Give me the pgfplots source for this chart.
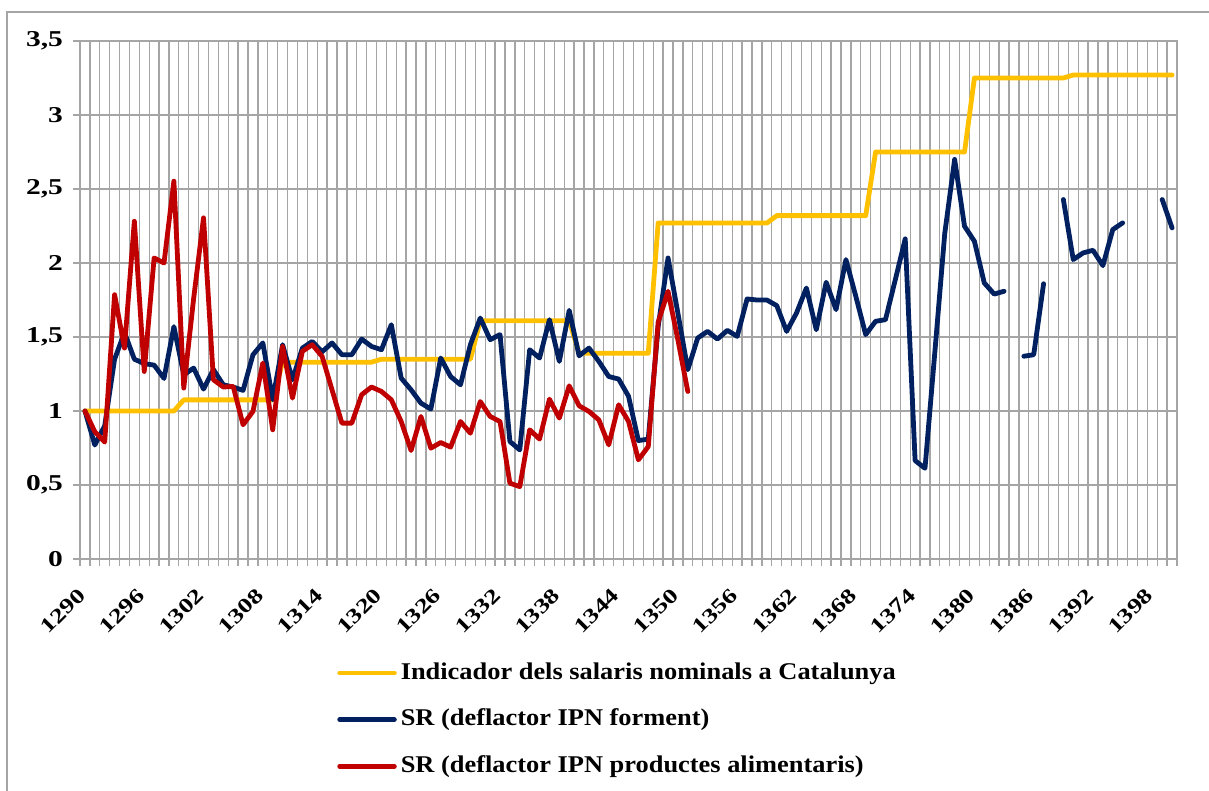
\documentclass[border=0pt]{standalone}
\usepackage{fontspec}
\setmainfont{Liberation Serif}
\newfontfamily\tickfont{Liberation Serif}[FakeStretch=1.3]
\newfontfamily\legfont{Liberation Serif}[FakeStretch=1.1]
\usepackage{pgfplots}
\pgfplotsset{compat=1.18}
\definecolor{cyel}{RGB}{255,192,0}
\definecolor{cblu}{RGB}{0,32,96}
\definecolor{cred}{RGB}{192,0,0}
\definecolor{cgrid}{RGB}{165,165,165}
\begin{document}
\begin{tikzpicture}
\useasboundingbox (0pt,0pt) rectangle (906.75pt,593.25pt);
\begin{scope}
\clip (0pt,0pt) rectangle (906.75pt,593.25pt);
\draw[cgrid, line width=1.4pt] (5.25pt,-20pt) -- (5.25pt,584.25pt) -- (930pt,584.25pt);
\end{scope}
\begin{axis}[
  at={(60pt,174pt)}, anchor=south west,
  scale only axis, width=822.75pt, height=388.5pt,
  xmin=1289.5, xmax=1400.5, ymin=0, ymax=3.5,
  axis line style={cgrid, line width=1pt},
  xtick={1290,1296,...,1398},
  minor xtick={1289.5,1290.5,...,1401},
  ytick={0,0.5,...,3.5},
  yticklabels={0,{0,5},1,{1,5},2,{2,5},3,{3,5}},
  xminorgrids=true, ymajorgrids=true,
  grid style={cgrid, line width=1pt},
  minor grid style={cgrid, line width=1pt},
  tick align=outside, tick pos=left,
  major tick length=5.25pt, minor tick length=5.25pt,
  every tick/.style={cgrid, line width=1pt},
  every major x tick/.style={draw=none},
  /pgf/number format/assume math mode=true,
  /pgf/number format/1000 sep={},
  xticklabel style={rotate=45, anchor=north east, font=\tickfont\bfseries\fontsize{15.5}{15.5}\selectfont, yshift=-3.5pt, xshift=-12pt},
  yticklabel style={font=\tickfont\bfseries\fontsize{17}{17}\selectfont, xshift=-4pt},
  unbounded coords=jump,
  every axis plot/.append style={line width=3.6pt, line join=round, line cap=round},
  legend style={at={(axis description cs:0.2343,-0.19)}, anchor=north west, draw=none, fill=none,
    inner sep=0pt, row sep=12pt, font=\legfont\bfseries\fontsize{18}{18}\selectfont,
    cells={anchor=west}, nodes={text height=13pt, text depth=4pt, inner sep=3pt}},
  legend image code/.code={\draw[#1, line cap=round] (0pt,0pt) -- (41pt,0pt);},
]
\addplot[cyel] coordinates {
(1290,1.0)(1291,1.0)(1292,1.0)(1293,1.0)(1294,1.0)(1295,1.0)(1296,1.0)(1297,1.0)(1298,1.0)(1299,1.0)
(1300,1.075)(1301,1.075)(1302,1.075)(1303,1.075)(1304,1.075)(1305,1.075)(1306,1.075)(1307,1.075)(1308,1.075)(1309,1.075)
(1310,1.33)(1311,1.33)(1312,1.33)(1313,1.33)(1314,1.33)(1315,1.33)(1316,1.33)(1317,1.33)(1318,1.33)(1319,1.33)
(1320,1.35)(1321,1.35)(1322,1.35)(1323,1.35)(1324,1.35)(1325,1.35)(1326,1.35)(1327,1.35)(1328,1.35)(1329,1.35)
(1330,1.61)(1331,1.61)(1332,1.61)(1333,1.61)(1334,1.61)(1335,1.61)(1336,1.61)(1337,1.61)(1338,1.61)(1339,1.61)
(1340,1.39)(1341,1.39)(1342,1.39)(1343,1.39)(1344,1.39)(1345,1.39)(1346,1.39)(1347,1.39)
(1348,2.27)(1349,2.27)(1350,2.27)(1351,2.27)(1352,2.27)(1353,2.27)(1354,2.27)(1355,2.27)(1356,2.27)(1357,2.27)(1358,2.27)(1359,2.27)
(1360,2.32)(1361,2.32)(1362,2.32)(1363,2.32)(1364,2.32)(1365,2.32)(1366,2.32)(1367,2.32)(1368,2.32)(1369,2.32)
(1370,2.75)(1371,2.75)(1372,2.75)(1373,2.75)(1374,2.75)(1375,2.75)(1376,2.75)(1377,2.75)(1378,2.75)(1379,2.75)
(1380,3.25)(1381,3.25)(1382,3.25)(1383,3.25)(1384,3.25)(1385,3.25)(1386,3.25)(1387,3.25)(1388,3.25)(1389,3.25)
(1390,3.27)(1391,3.27)(1392,3.27)(1393,3.27)(1394,3.27)(1395,3.27)(1396,3.27)(1397,3.27)(1398,3.27)(1399,3.27)(1400,3.27)
};
\addlegendentry{Indicador dels salaris nominals a Catalunya}
\addplot[cblu] coordinates {
(1290,1.00)(1291,0.77)(1292,0.90)(1293,1.35)(1294,1.53)(1295,1.35)(1296,1.32)(1297,1.31)(1298,1.22)(1299,1.57)
(1300,1.245)(1301,1.29)(1302,1.148)(1303,1.28)(1304,1.177)(1305,1.162)(1306,1.139)(1307,1.38)(1308,1.46)(1309,1.076)
(1310,1.448)(1311,1.211)(1312,1.425)(1313,1.47)(1314,1.40)(1315,1.46)(1316,1.38)(1317,1.38)(1318,1.486)(1319,1.436)
(1320,1.414)(1321,1.583)(1322,1.222)(1323,1.143)(1324,1.053)(1325,1.013)(1326,1.358)(1327,1.233)(1328,1.177)(1329,1.448)
(1330,1.628)(1331,1.482)(1332,1.516)(1333,0.794)(1334,0.737)(1335,1.414)(1336,1.358)(1337,1.617)(1338,1.335)(1339,1.68)
(1340,1.373)(1341,1.425)(1342,1.335)(1343,1.233)(1344,1.216)(1345,1.10)(1346,0.80)(1347,0.81)(1348,1.57)(1349,2.034)
(1350,1.66)(1351,1.279)(1352,1.493)(1353,1.538)(1354,1.486)(1355,1.545)(1356,1.504)(1357,1.757)(1358,1.75)(1359,1.75)
(1360,1.712)(1361,1.538)(1362,1.662)(1363,1.831)(1364,1.549)(1365,1.87)(1366,1.685)(1367,2.023)(1368,1.775)(1369,1.516)
(1370,1.606)(1371,1.617)(1372,1.888)(1373,2.163)(1374,0.665)(1375,0.613)(1376,1.40)(1377,2.20)(1378,2.70)(1379,2.248)
(1380,2.147)(1381,1.865)(1382,1.79)(1383,1.809)(1384,nan)(1385,1.37)(1386,1.38)(1387,1.86)(1388,nan)(1389,2.429)
(1390,2.023)(1391,2.068)(1392,2.086)(1393,1.982)(1394,2.226)(1395,2.271)(1396,nan)(1397,nan)(1398,nan)(1399,2.429)(1400,2.237)
};
\addlegendentry{SR (deflactor IPN forment)}
\addplot[cred] coordinates {
(1290,1.00)(1291,0.86)(1292,0.79)(1293,1.786)(1294,1.425)(1295,2.282)(1296,1.267)(1297,2.034)(1298,2.00)(1299,2.553)
(1300,1.155)(1301,1.76)(1302,2.305)(1303,1.211)(1304,1.162)(1305,1.166)(1306,0.907)(1307,0.997)(1308,1.324)(1309,0.873)
(1310,1.436)(1311,1.087)(1312,1.403)(1313,1.448)(1314,1.369)(1315,1.143)(1316,0.918)(1317,0.918)(1318,1.11)(1319,1.162)
(1320,1.132)(1321,1.076)(1322,0.929)(1323,0.733)(1324,0.963)(1325,0.749)(1326,0.787)(1327,0.756)(1328,0.929)(1329,0.85)
(1330,1.064)(1331,0.963)(1332,0.929)(1333,0.512)(1334,0.489)(1335,0.873)(1336,0.81)(1337,1.08)(1338,0.952)(1339,1.17)
(1340,1.035)(1341,0.997)(1342,0.94)(1343,0.771)(1344,1.042)(1345,0.93)(1346,0.67)(1347,0.76)(1348,1.6)(1349,1.809)
(1350,1.48)(1351,1.132)
};
\addlegendentry{SR (deflactor IPN productes alimentaris)}
\end{axis}
\end{tikzpicture}
\end{document}
